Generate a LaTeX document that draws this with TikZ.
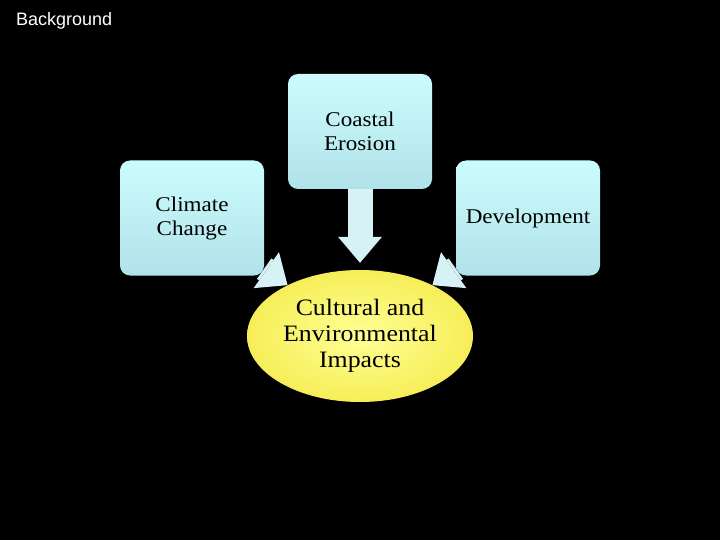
\documentclass[tikz,border=0pt]{standalone}
\usepackage{fontspec}
\setmainfont{Liberation Serif}[FakeStretch=1.1]
\newfontfamily\labelfont{Liberation Sans}
\usetikzlibrary{arrows.meta,shapes.geometric}
\pgfdeclarelayer{canvas}
\pgfdeclarelayer{links}
\pgfsetlayers{canvas,links,main}
\definecolor{boxtop}{RGB}{204,252,253}
\definecolor{boxbottom}{RGB}{176,226,233}
\definecolor{flowfill}{RGB}{214,242,246}
\definecolor{impactin}{RGB}{255,255,150}
\definecolor{impactout}{RGB}{246,238,88}

\begin{document}
\begin{tikzpicture}[x=1pt, y=-1pt,
    cause/.style={rectangle, rounded corners=10pt, minimum width=144pt, minimum height=115pt,
      top color=boxtop, bottom color=boxbottom, align=center, inner sep=0pt,
      font=\fontsize{21}{24}\selectfont},
    impact/.style={ellipse, minimum width=226pt, minimum height=132pt, inner sep=0pt,
      inner color=impactin, outer color=impactout, align=center,
      font=\fontsize{23.5}{26}\selectfont},
    flow/.style={line width=25pt, color=flowfill,
      -{Triangle[width=44pt, length=26pt, line width=0pt, fill=flowfill]}}]
  \useasboundingbox (0,0) rectangle (720,540);
  \begin{pgfonlayer}{canvas}
    \fill[black] (0,0) rectangle (720,540);
  \end{pgfonlayer}

  \node[anchor=base west, inner sep=0pt, text=white,
    font=\labelfont\fontsize{18}{21}\selectfont] (title) at (16,26) {Background};

  \node[cause] (erosion) at (360,131.5) {Coastal\\Erosion};
  \node[cause] (climate) at (192,218) {Climate\\Change};
  \node[cause] (develop) at (528,218) {Development};
  \node[impact] (impacts) at (360,336) {Cultural and\\Environmental\\Impacts};

  \begin{pgfonlayer}{links}
    \path[flow]
      (erosion) edge[shorten >=7pt] (impacts)
      (climate) edge (impacts)
      (develop) edge (impacts);
  \end{pgfonlayer}
\end{tikzpicture}
\end{document}
